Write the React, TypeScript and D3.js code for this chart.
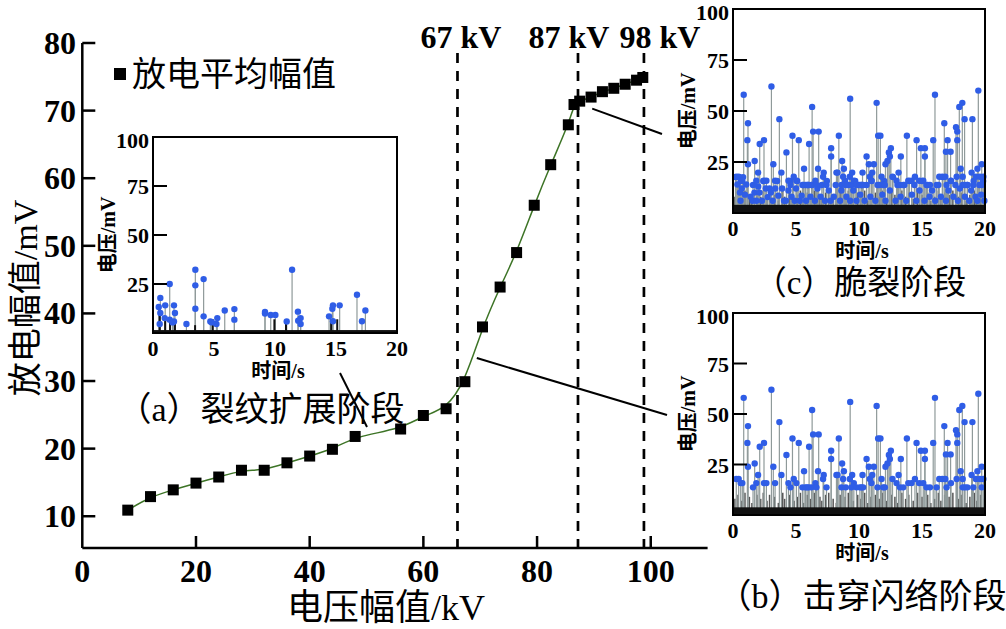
import React from "react";
import { scaleLinear, line, curveBasis } from "d3";

// average discharge amplitude vs applied voltage
const voltageKV = [8, 12, 16, 20, 24, 28, 32, 36, 40, 44, 48, 56, 60, 64, 67.3, 70.4, 73.5, 76.4, 79.5, 82.4, 85.5, 86.5, 87.5, 89.5, 91.5, 93.5, 95.5, 97.5, 98.6];
const meanAmpMV = [10.9, 12.9, 13.9, 14.9, 15.8, 16.8, 16.8, 17.9, 18.9, 19.9, 21.8, 22.9, 24.9, 25.9, 29.9, 38, 43.9, 49, 56, 62, 67.9, 70.9, 71.4, 72, 72.8, 73.3, 73.9, 74.5, 74.9];

const xTicks = [0, 20, 40, 60, 80, 100];
const yTicks = [10, 20, 30, 40, 50, 60, 70, 80];

// stage boundaries: line position, label text, label position
const stageLines = [66, 87.2, 98.8];
const stageLabels = ["67 kV", "87 kV", "98 kV"];
const stageLabelPos = [66.6, 85.6, 101.6];

// pulse sequences [time s, amplitude mV]
const pulsesA = [
  [0.47, 13.3], [0.6, 17.9], [0.6, 10.2], [0.55, 4.6], [0.96, 7.6], [1.0, 14.1], [1.37, 25], [1.37, 6.8],
  [1.72, 14.1], [1.8, 10.2], [1.72, 5.9], [1.6, 5.4], [2.74, 4.6], [3.47, 32.3], [3.47, 24.3], [3.47, 12.4],
  [4.15, 27.5], [4.15, 8.5], [4.7, 5.9], [4.83, 5.4], [5.2, 4.6], [5.27, 7.6], [5.88, 11.5], [6.67, 12.2],
  [6.67, 6.8], [9.18, 10.7], [9.18, 9.9], [9.65, 9.2], [10.03, 9.2], [10.96, 5.9], [11.4, 32.3], [11.88, 10.9],
  [11.9, 6.3], [12.1, 7.6], [12.1, 4.6], [14.43, 8.5], [14.7, 12.4], [14.75, 14.1], [14.75, 6], [15.3, 14.1],
  [16.72, 19.5], [17.13, 6], [17.41, 11.5],
];
const blackPulsesA = [[0.55, 12], [1.0, 8], [1.4, 7], [1.8, 6], [3.45, 4], [4.9, 7], [9.95, 7], [10.9, 6], [14.6, 7], [15.1, 7]];

const peaksBC = [
  [0.85, 58], [1.19, 44], [1.14, 35.7], [1.19, 23.9], [1.72, 25.5], [2.12, 33.8], [2.46, 35.7], [3.05, 62],
  [3.2, 23.9], [3.68, 46], [3.84, 19.8], [4.24, 29.7], [4.72, 37.9], [5.22, 35.7], [5.64, 21.7], [6.04, 33.8],
  [6.28, 52], [6.36, 39.9], [6.8, 39.9], [6.75, 21.7], [7.2, 19.8], [7.79, 31.8], [7.79, 27.7], [8.4, 37.9],
  [8.66, 25.5], [8.8, 21.7], [9.3, 56], [8.3, 19.8], [9.46, 19.8], [10.28, 19.8], [10.6, 27.7], [10.78, 23.9],
  [11.18, 23.9], [11.4, 54], [11.52, 37.9], [11.7, 37.9], [11.05, 19.8], [12.1, 23.9], [12.26, 25.5], [12.37, 29.7],
  [12.53, 31.8], [12.45, 27.7], [13.14, 19.8], [13.32, 27.7], [13.8, 37.9], [14.57, 35.7], [14.91, 31.8], [15.23, 31.8],
  [15.23, 27.7], [15.89, 35.7], [16.03, 58], [16.77, 44], [17.03, 35.7], [16.9, 30], [17.27, 30], [17.7, 42],
  [17.8, 39.9], [17.8, 35.7], [17.96, 52], [18.2, 54], [18.38, 46], [18.07, 21.7], [18.23, 17.8], [19.0, 46],
  [18.94, 19.8], [19.47, 60], [19.4, 21.7], [19.74, 23.9], [19.6, 17.8],
];
const midBC = [
  [0.26, 17.8], [0.45, 17.8], [0.61, 15.8], [0.74, 15.8], [1.59, 13.7], [1.85, 15.8], [1.99, 19.8], [2.46, 15.8],
  [2.65, 15.8], [3.34, 15.8], [4.4, 15.8], [4.56, 13.7], [4.82, 17.8], [5.03, 15.8], [5.51, 13.7], [5.75, 13.7],
  [5.88, 13.7], [6.01, 13.7], [6.23, 13.7], [6.54, 15.8], [6.62, 13.7], [7.15, 17.8], [7.42, 13.7], [8.21, 19.8],
  [8.61, 13.7], [8.74, 17.8], [8.95, 13.7], [9.27, 17.8], [9.4, 13.7], [9.59, 15.8], [9.8, 13.7], [10.07, 13.7],
  [10.2, 13.7], [10.33, 13.7], [10.86, 17.8], [10.99, 15.8], [11.47, 13.7], [11.79, 17.8], [11.92, 13.7], [12.05, 13.7],
  [12.66, 17.8], [12.98, 15.8], [13.25, 13.7], [13.51, 13.7], [13.91, 15.8], [14.17, 15.8], [14.44, 17.8], [14.78, 15.8],
  [15.1, 15.8], [15.36, 13.7], [15.63, 13.7], [16.16, 13.7], [16.37, 17.8], [16.61, 17.8], [16.85, 17.8], [16.95, 13.7],
  [17.3, 15.8], [17.75, 17.8], [18.23, 13.7], [18.41, 13.7], [18.6, 13.7], [19.07, 13.7], [19.28, 17.8], [19.74, 13.7],
  [19.87, 17.8],
];
const lowC = [
  [0.2, 17.6], [0.35, 14], [0.5, 17.6], [0.55, 10], [0.6, 6], [0.7, 12], [0.8, 17.6], [0.95, 9], [1.05, 14], [1.4, 8],
  [1.55, 6], [1.7, 10], [1.85, 6], [2.0, 13], [2.1, 10], [2.3, 6], [2.4, 15.7], [2.6, 12], [2.75, 7.8], [2.9, 12],
  [3.0, 10], [3.15, 6], [3.35, 12], [3.5, 15.7], [3.6, 8.5], [3.9, 12], [4.05, 6], [4.2, 6], [4.4, 11], [4.55, 15.7],
  [4.65, 8], [4.9, 6], [5.0, 12], [5.1, 15.7], [5.3, 6], [5.45, 8.5], [5.6, 13.7], [5.8, 6], [5.95, 13.7], [6.15, 8],
  [6.25, 13.7], [6.5, 6], [6.7, 12], [6.95, 8], [7.05, 13.7], [7.3, 6], [7.45, 15.7], [7.6, 11], [7.75, 6], [8.0, 8],
  [8.15, 13.7], [8.5, 6], [8.6, 11], [8.9, 15.7], [9.0, 8], [9.15, 13.7], [9.3, 6], [9.55, 11], [9.7, 15.7], [9.8, 6],
  [9.95, 13.7], [10.1, 9], [10.2, 13.7], [10.45, 6], [10.6, 13.7], [10.9, 8], [11.0, 15.7], [11.3, 6], [11.6, 13.7],
  [11.85, 9], [12.0, 15.7], [12.1, 6], [12.45, 11], [12.7, 17.6], [12.9, 6], [13.05, 13.7], [13.3, 8], [13.6, 13.7],
  [13.75, 6], [14.0, 15.7], [14.2, 9], [14.4, 13.7], [14.55, 6], [14.8, 11], [15.0, 15.7], [15.2, 6], [15.45, 13.7],
  [15.6, 8], [15.8, 11], [16.05, 6], [16.3, 13.7], [16.5, 8], [16.65, 17.6], [16.9, 6], [17.1, 11], [17.3, 15.7],
  [17.5, 8], [17.65, 13.7], [17.85, 6], [18.0, 12], [18.4, 8], [18.6, 13.7], [18.75, 6], [18.9, 11], [19.1, 15.7],
  [19.25, 8], [19.4, 6], [19.55, 13.7], [19.7, 9], [19.85, 15.7], [19.95, 6],
];
// small undetected pulses standing on the noise floor
const smallB = [
  [0.15, 8], [0.4, 10], [0.7, 7], [0.95, 11], [1.3, 9], [1.5, 6], [1.9, 10], [2.2, 8], [2.4, 11], [2.7, 7],
  [2.9, 10], [3.3, 9], [3.6, 6], [3.95, 11], [4.1, 8], [4.5, 10], [4.85, 7], [5.1, 9], [5.35, 11], [5.6, 6],
  [5.9, 10], [6.15, 8], [6.45, 11], [6.9, 9], [7.05, 7], [7.35, 10], [7.6, 11], [7.95, 8], [8.2, 6], [8.5, 10],
  [8.9, 9], [9.15, 11], [9.55, 7], [9.9, 10], [10.15, 8], [10.45, 11], [10.7, 6], [10.95, 9], [11.3, 10], [11.6, 8],
  [11.85, 11], [12.2, 7], [12.6, 10], [12.85, 9], [13.05, 6], [13.4, 11], [13.7, 8], [13.95, 10], [14.3, 7], [14.65, 11],
  [15.0, 9], [15.45, 10], [15.7, 6], [16.0, 8], [16.3, 11], [16.5, 7], [16.8, 10], [17.15, 9], [17.45, 11], [17.9, 8],
  [18.1, 10], [18.5, 6], [18.8, 9], [19.15, 11], [19.35, 7], [19.65, 10], [19.9, 8],
];

const insetXTicks = [0, 5, 10, 15, 20];
const insetYTicks = [25, 50, 75, 100];

const FONT = "'Liberation Serif', 'Times New Roman', 'Noto Sans CJK SC', serif";

function Inset({ box, dots, black = [], grey = [], floor, caption, captionX, captionY, captionSize }) {
  const x = scaleLinear().domain([0, 20]).range([box.left, box.right]);
  const y = scaleLinear().domain([0, 100]).range([box.bottom, box.top]);
  const midY = (box.top + box.bottom) / 2;
  return (
    <g>
      <rect x={box.left} y={box.top} width={box.right - box.left} height={box.bottom - box.top} fill="#fff" />
      {grey.map(([t, v], i) => (
        <line key={"g" + i} x1={x(t)} x2={x(t)} y1={y(0)} y2={y(v)} stroke="#555" strokeWidth={1.5} />
      ))}
      {dots.map(([t, v], i) => (
        <line key={"s" + i} x1={x(t)} x2={x(t)} y1={y(0)} y2={y(v)} stroke="#8f9a9a" strokeWidth={1.2} />
      ))}
      {black.map(([t, v], i) => (
        <line key={"b" + i} x1={x(t)} x2={x(t)} y1={y(0)} y2={y(v)} stroke="#111" strokeWidth={2} />
      ))}
      <rect x={box.left} y={y(floor)} width={box.right - box.left} height={y(0) - y(floor)} fill="#111" />
      {dots.map(([t, v], i) => (
        <circle key={"d" + i} cx={x(t)} cy={y(v)} r={3.2} fill="#2f5de6" />
      ))}
      <rect x={box.left} y={box.top} width={box.right - box.left} height={box.bottom - box.top} fill="none" stroke="#000" strokeWidth={2} />
      {insetYTicks.map((t) => (
        <g key={t}>
          {t < 100 && <line x1={box.left} x2={box.left + 14} y1={y(t)} y2={y(t)} stroke="#000" strokeWidth={2} />}
          <text x={box.left - 4} y={y(t) + (t === 100 ? 11 : 8)} textAnchor="end" fontSize={22} fontWeight="bold">{t}</text>
        </g>
      ))}
      {insetXTicks.map((t) => (
        <text key={t} x={x(t)} y={box.bottom + 23} textAnchor="middle" fontSize={22} fontWeight="bold">{t}</text>
      ))}
      <text x={(box.left + box.right) / 2 + 3} y={box.bottom + 45} textAnchor="middle" fontSize={20} fontWeight="bold">时间/s</text>
      <text transform={`translate(${box.left - 45},${midY}) rotate(-90)`} textAnchor="middle" dominantBaseline="central" fontSize={20} fontWeight="bold">电压/mV</text>
      <text x={captionX} y={captionY} textAnchor="middle" fontSize={captionSize}>{caption}</text>
    </g>
  );
}

export default function App() {
  const x = scaleLinear().domain([0, 110]).range([82.3, 707.6]);
  const y = scaleLinear().domain([5.3, 80]).range([548, 43]);
  const pts = voltageKV.map((v, i) => [x(v), y(meanAmpMV[i])]);
  const fit = line().curve(curveBasis)(pts);

  // leader lines from the curve to each pulse panel
  const leaders = [
    [x(69.4), y(33.4), 667, 415],
    [x(89.7), y(70.3), 662, 134],
    [340, 373, 367, 427],
  ];

  return (
    <svg width={1006} height={629} style={{ position: "absolute", left: 0, top: 0, background: "#fff" }} fontFamily={FONT}>
      {/* axes */}
      <line x1={x(0)} x2={x(0)} y1={y(80)} y2={y(5.3)} stroke="#000" strokeWidth={2.5} />
      <line x1={x(0)} x2={x(110)} y1={y(5.3)} y2={y(5.3)} stroke="#000" strokeWidth={2.5} />
      {yTicks.map((t) => (
        <g key={t}>
          <line x1={x(0)} x2={x(0) + 13} y1={y(t)} y2={y(t)} stroke="#000" strokeWidth={2.5} />
          <text x={76} y={y(t) + 11} textAnchor="end" fontSize={32} fontWeight="bold">{t}</text>
        </g>
      ))}
      {xTicks.map((t) => (
        <g key={t}>
          {t > 0 && <line x1={x(t)} x2={x(t)} y1={y(5.3)} y2={y(5.3) - 12} stroke="#000" strokeWidth={2.5} />}
          <text x={x(t)} y={582} textAnchor="middle" fontSize={32} fontWeight="bold">{t}</text>
        </g>
      ))}
      <text transform={`translate(25,298) rotate(-90)`} textAnchor="middle" dominantBaseline="central" fontSize={34}>放电幅值/mV</text>
      <text x={386} y={620} textAnchor="middle" fontSize={36}>电压幅值/kV</text>

      {/* stage boundaries */}
      {stageLines.map((v, i) => (
        <g key={v}>
          <line x1={x(v)} x2={x(v)} y1={53} y2={y(5.3)} stroke="#000" strokeWidth={2.7} strokeDasharray="10 8" />
          <text x={x(stageLabelPos[i])} y={48} textAnchor="middle" fontSize={32} fontWeight="bold">{stageLabels[i]}</text>
        </g>
      ))}

      {/* legend */}
      <rect x={114} y={68} width={12} height={12} fill="#000" />
      <text x={132} y={86} fontSize={34}>放电平均幅值</text>

      {/* fitted curve and averages */}
      <path d={fit} fill="none" stroke="#3d7426" strokeWidth={1.5} />
      {pts.map(([px, py], i) => (
        <rect key={i} x={px - 5.5} y={py - 5.5} width={11} height={11} fill="#000" />
      ))}

      {leaders.map(([x1, y1, x2, y2], i) => (
        <line key={i} x1={x1} y1={y1} x2={x2} y2={y2} stroke="#000" strokeWidth={2} />
      ))}

      <Inset box={{ left: 153, right: 397, top: 137, bottom: 333 }} dots={pulsesA} black={blackPulsesA} floor={1.5}
        caption="（a）裂纹扩展阶段" captionX={261} captionY={421} captionSize={34} />
      <Inset box={{ left: 733, right: 985, top: 9, bottom: 213 }} dots={[...lowC, ...midBC, ...peaksBC]} grey={smallB} floor={4}
        caption="（c）脆裂阶段" captionX={860} captionY={294} captionSize={33} />
      <Inset box={{ left: 733, right: 985, top: 313, bottom: 515 }} dots={[...midBC, ...peaksBC]} grey={smallB} floor={3.8}
        caption="（b）击穿闪络阶段" captionX={862} captionY={608} captionSize={34} />
    </svg>
  );
}
